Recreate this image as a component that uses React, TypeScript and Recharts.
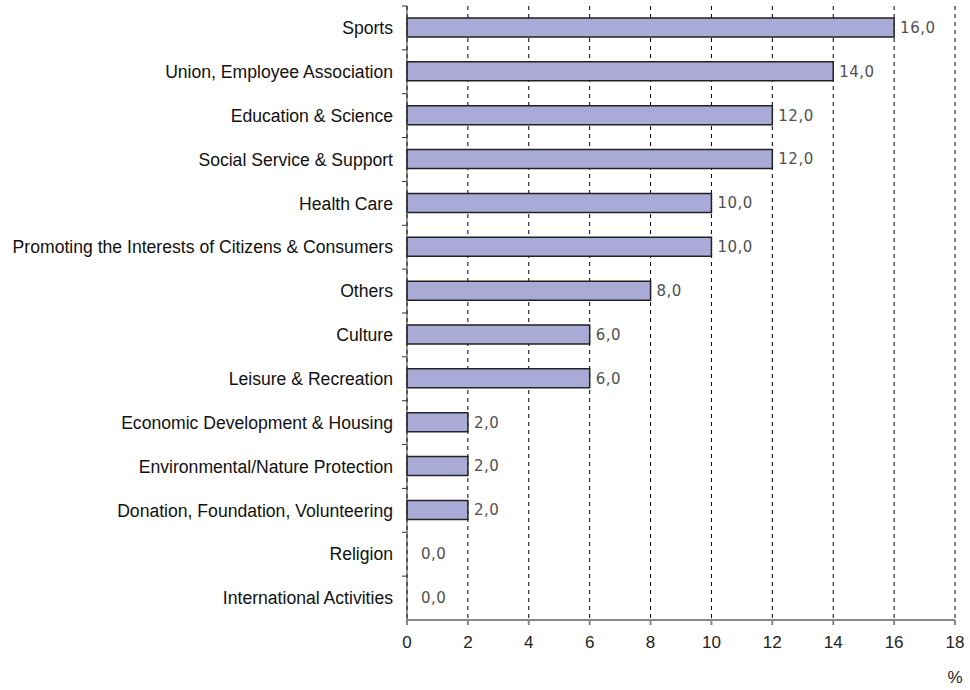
import React from "react";
import { BarChart, Bar, XAxis, YAxis, CartesianGrid, LabelList, Label, Rectangle } from "recharts";

const categories = [
  "Sports",
  "Union, Employee Association",
  "Education & Science",
  "Social Service & Support",
  "Health Care",
  "Promoting the Interests of Citizens & Consumers",
  "Others",
  "Culture",
  "Leisure & Recreation",
  "Economic Development & Housing",
  "Environmental/Nature Protection",
  "Donation, Foundation, Volunteering",
  "Religion",
  "International Activities",
];
const shares = [16, 14, 12, 12, 10, 10, 8, 6, 6, 2, 2, 2, 0, 0];
const xTicks = [0, 2, 4, 6, 8, 10, 12, 14, 16, 18];

const data = categories.map((name, i) => ({ name, value: shares[i] }));

const fmt = (v: number) => v.toFixed(1).replace(".", ",");

const CHART_H = 690;
const TOP = 6;
const BOTTOM = 70;
const BAND = (CHART_H - TOP - BOTTOM) / categories.length;

const BarShape = (props: any) => {
  if (!props.value) return <g />;
  return <Rectangle {...props} />;
};

const ValueLabel = (props: any) => {
  const { x, y, width, height, value } = props;
  const v = Number(value);
  const off = v === 0 ? 14 : 6;
  return (
    <text
      x={Number(x) + (v === 0 ? 0 : Number(width)) + off}
      y={Number(y) + Number(height) / 2}
      dy="0.36em"
      fill="#505050"
      fontSize={15}
      fontFamily="DejaVu Sans"
      letterSpacing={0.5}
    >
      {fmt(v)}
    </text>
  );
};

const CategoryTick = (props: any) => {
  const { x, y, payload } = props;
  const ty = y - BAND / 2;
  return (
    <g>
      <line x1={x + 9} x2={x + 14} y1={ty} y2={ty} stroke="#333" />
      <text
        x={x}
        y={y}
        dy="0.355em"
        textAnchor="end"
        fill="#111"
        fontSize={17.6}
        fontFamily="Liberation Sans, Arial"
      >
        {payload.value}
      </text>
    </g>
  );
};

const App: React.FC = () => {
  return (
    <div style={{ position: "absolute", left: 0, top: 0 }}>
      <BarChart
        width={970}
        height={CHART_H}
        data={data}
        layout="vertical"
        margin={{ top: TOP, right: 15, bottom: 10, left: 0 }}
      >
        <CartesianGrid horizontal={false} stroke="#000" strokeDasharray="4 4" />
        <XAxis
          type="number"
          domain={[0, 18]}
          ticks={xTicks}
          height={60}
          tickSize={5}
          tickMargin={11}
          stroke="#888"
          strokeWidth={2}
          tick={{ fill: "#222", fontSize: 17, fontFamily: "Liberation Sans, Arial" }}
        >
          <Label
            content={({ viewBox }: any) => (
              <text
                x={viewBox.x + viewBox.width}
                y={viewBox.y + 63}
                textAnchor="middle"
                fill="#222"
                fontSize={17}
                fontFamily="Liberation Sans, Arial"
              >
                %
              </text>
            )}
          />
        </XAxis>
        <YAxis
          type="category"
          dataKey="name"
          width={407}
          tickSize={0}
          tickMargin={14}
          tickLine={false}
          stroke="#333"
          interval={0}
          tick={CategoryTick}
        />
        <Bar
          dataKey="value"
          fill="#aaaad6"
          stroke="#222"
          strokeWidth={1.5}
          barSize={19}
          minPointSize={1}
          shape={BarShape}
          isAnimationActive={false}
        >
          <LabelList dataKey="value" content={ValueLabel} />
        </Bar>
      </BarChart>
    </div>
  );
};

export default App;
